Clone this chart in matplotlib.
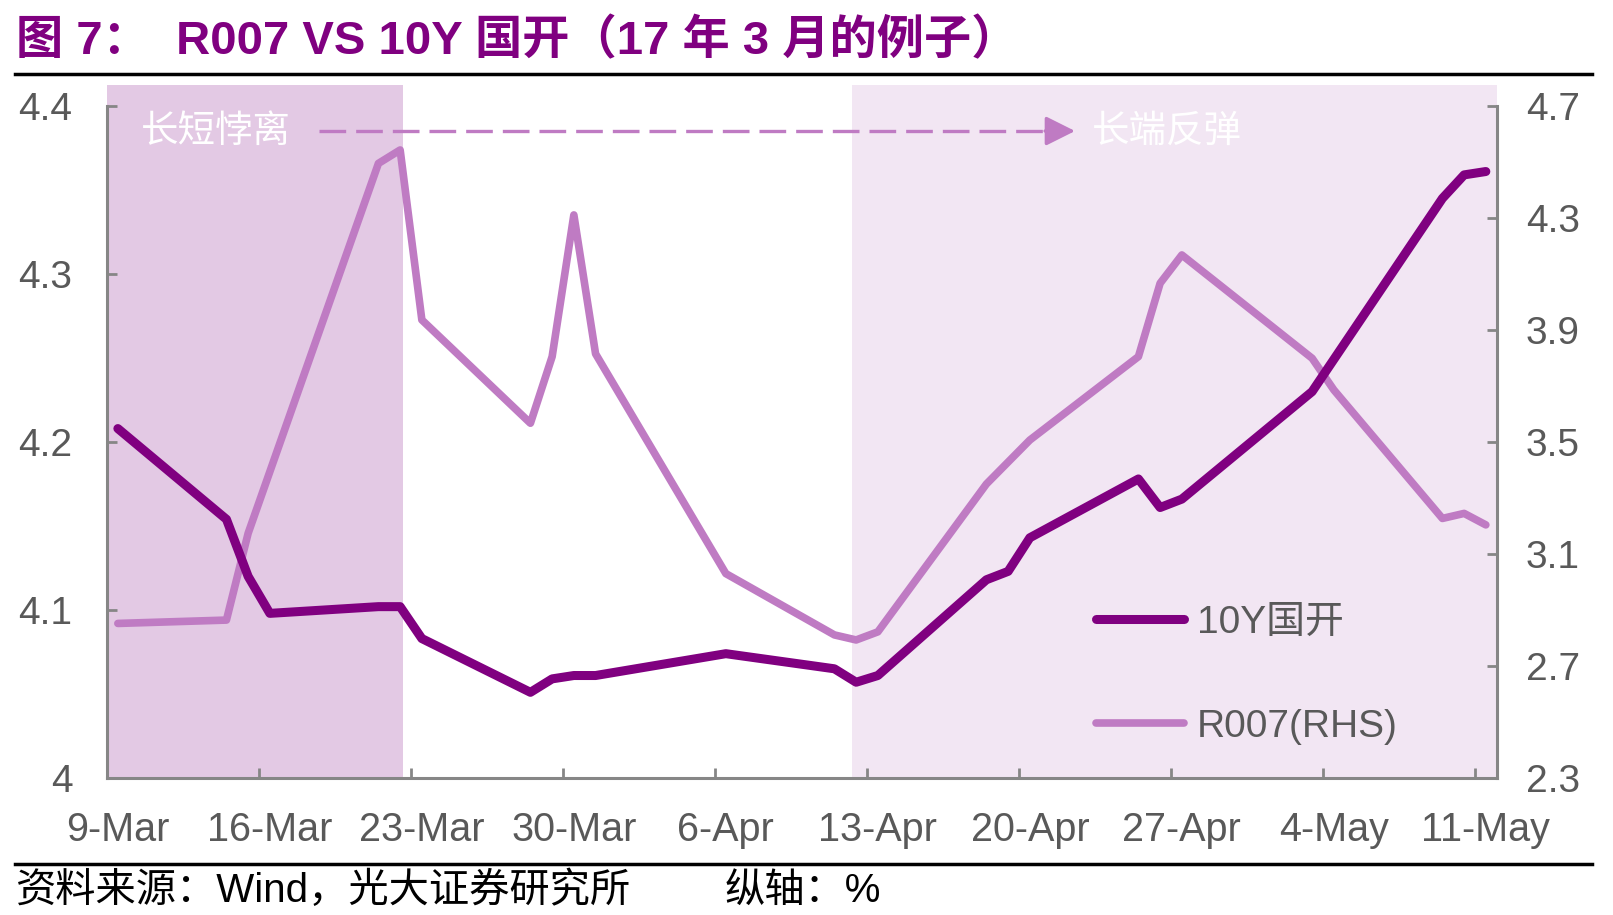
import matplotlib

matplotlib.use("Agg")

import matplotlib.pyplot as plt
import pandas as pd
from matplotlib.lines import Line2D

plt.rcParams["font.family"] = ["Liberation Sans", "Noto Sans CJK SC", "DejaVu Sans"]

# --- data --------------------------------------------------------------------
START = pd.Timestamp("2017-03-09")

CDB_DATES = ["2017-03-09", "2017-03-14", "2017-03-15", "2017-03-16", "2017-03-21",
             "2017-03-22", "2017-03-23", "2017-03-28", "2017-03-29", "2017-03-30",
             "2017-03-31", "2017-04-06", "2017-04-11", "2017-04-12", "2017-04-13",
             "2017-04-18", "2017-04-19", "2017-04-20", "2017-04-25", "2017-04-26",
             "2017-04-27", "2017-05-03", "2017-05-09", "2017-05-10", "2017-05-11"]
CDB_10Y = [4.208, 4.154, 4.120, 4.098, 4.102,
           4.102, 4.083, 4.051, 4.059, 4.061,
           4.061, 4.074, 4.065, 4.057, 4.061,
           4.118, 4.123, 4.143, 4.178, 4.161,
           4.166, 4.230, 4.345, 4.359, 4.361]

R007_DATES = ["2017-03-09", "2017-03-14", "2017-03-15", "2017-03-21", "2017-03-22",
              "2017-03-23", "2017-03-28", "2017-03-29", "2017-03-30", "2017-03-31",
              "2017-04-06", "2017-04-11", "2017-04-12", "2017-04-13", "2017-04-18",
              "2017-04-20", "2017-04-25", "2017-04-26", "2017-04-27", "2017-05-03",
              "2017-05-04", "2017-05-09", "2017-05-10", "2017-05-11"]
R007 = [2.852, 2.864, 3.174, 4.495, 4.543,
        3.936, 3.567, 3.805, 4.311, 3.815,
        3.030, 2.811, 2.793, 2.822, 3.350,
        3.507, 3.805, 4.067, 4.168, 3.799,
        3.686, 3.227, 3.245, 3.204]

TICK_DATES = ["2017-03-09", "2017-03-16", "2017-03-23", "2017-03-30", "2017-04-06",
              "2017-04-13", "2017-04-20", "2017-04-27", "2017-05-04", "2017-05-11"]
TICK_LABELS = ["9-Mar", "16-Mar", "23-Mar", "30-Mar", "6-Apr",
               "13-Apr", "20-Apr", "27-Apr", "4-May", "11-May"]

LEFT_TICKS = [4.0, 4.1, 4.2, 4.3, 4.4]
LEFT_LABELS = ["4", "4.1", "4.2", "4.3", "4.4"]
RIGHT_TICKS = [2.3, 2.7, 3.1, 3.5, 3.9, 4.3, 4.7]

# shaded periods: 长短悖离 / 长端反弹
DIVERGE = ("2017-03-09", "2017-03-22")
REBOUND = ("2017-04-12", "2017-05-11")

# --- style --------------------------------------------------------------------
C_10Y = "#800080"
C_R007 = "#BF7BC3"
C_SHADE1 = "#E3C9E4"
C_SHADE2 = "#F2E6F3"
C_AXIS = "#868686"
C_TEXT = "#595959"
W, H = 1613, 915


def day(d):
    return (pd.to_datetime(d) - START).days


fig = plt.figure(figsize=(W / 100, H / 100), dpi=100)
ax = fig.add_axes([107 / W, 1 - 778 / H, (1496.7 - 107) / W, (778 - 85) / H])
ax2 = ax.twinx()
ax.set_zorder(2)
ax2.set_zorder(1)
ax.patch.set_visible(False)

x0, x1 = day(TICK_DATES[0]) - 0.5, day(TICK_DATES[-1]) + 0.5
ax.set_xlim(x0, x1)
ax.set_ylim(4.0, 4.4125)
ax2.set_ylim(2.3, 4.775)

# shading
ax2.axvspan(x0, day(DIVERGE[1]) + 0.15, color=C_SHADE1, lw=0, zorder=0)
ax2.axvspan(day(REBOUND[0]) - 0.2, x1, color=C_SHADE2, lw=0, zorder=0)

l2, = ax2.plot(day(R007_DATES), R007, color=C_R007, lw=5.5,
               solid_capstyle="round", solid_joinstyle="round", zorder=3)
l1, = ax.plot(day(CDB_DATES), CDB_10Y, color=C_10Y, lw=6.5,
              solid_capstyle="round", solid_joinstyle="round", zorder=3)

# spines
for s in ("top", "right"):
    ax.spines[s].set_visible(False)
for s in ("top", "left", "bottom"):
    ax2.spines[s].set_visible(False)
ax.spines["left"].set_bounds(4.0, 4.4)
ax2.spines["right"].set_bounds(2.3, 4.7)
for sp in (ax.spines["left"], ax.spines["bottom"], ax2.spines["right"]):
    sp.set_color(C_AXIS)
    sp.set_linewidth(2.2)

# ticks
ax.set_yticks(LEFT_TICKS, LEFT_LABELS)
ax2.set_yticks(RIGHT_TICKS, [f"{v:.1f}" for v in RIGHT_TICKS])
ax.tick_params(axis="y", direction="in", length=7, width=2, color=C_AXIS,
               labelsize=28, labelcolor=C_TEXT, pad=25)
ax2.tick_params(axis="y", direction="in", length=7, width=2, color=C_AXIS,
                labelsize=28, labelcolor=C_TEXT, pad=21)

tick_days = day(TICK_DATES)
ax.set_xticks([d - 0.5 for d in tick_days[1:]], [""] * (len(tick_days) - 1))
ax.set_xticks(tick_days, TICK_LABELS, minor=True)
ax.tick_params(axis="x", which="major", direction="in", length=7, width=2, color=C_AXIS)
ax.tick_params(axis="x", which="minor", length=0, labelsize=28.5,
               labelcolor=C_TEXT, pad=24)

# annotation: 长短悖离 - - - -> 长端反弹
ya = 0.9336
ann_font = dict(family=["Noto Sans CJK SC", "DejaVu Sans"], fontsize=27,
                color="white", weight="light", va="center", ha="left")
ax.text(0.0245, ya, "长短悖离", transform=ax.transAxes, **ann_font)
ax.text(0.7088, ya, "长端反弹", transform=ax.transAxes, **ann_font)
dash, = ax.plot([0.1526, 0.679], [ya, ya], transform=ax.transAxes,
                color=C_R007, lw=2.4, zorder=4)
dash.set_dashes((8, 3))
ax.annotate("", xy=(0.6966, ya), xytext=(0.675, ya),
            xycoords="axes fraction", textcoords="axes fraction",
            arrowprops=dict(arrowstyle="-|>,head_length=1.0,head_width=0.5",
                            mutation_scale=18, color=C_R007, lw=2.4,
                            shrinkA=0, shrinkB=0))

# legend
ax.legend([l1, l2], ["10Y国开", "R007(RHS)"], loc="center left",
          bbox_to_anchor=(1095.5 / W, 1 - 675 / H), bbox_transform=fig.transFigure,
          frameon=False, prop=dict(family=["Liberation Sans", "Noto Sans CJK SC"], size=28),
          labelcolor=C_TEXT, handlelength=2.27, handletextpad=0.34,
          labelspacing=1.75, borderpad=0, borderaxespad=0)

# title, rules and source
fig.text(16 / W, 1 - 54.5 / H, "图 7：  R007 VS 10Y 国开（17 年 3 月的例子）",
         fontsize=34, weight="bold", color=C_10Y, ha="left", va="baseline")
fig.add_artist(Line2D([15 / W, 1592 / W], [1 - 74 / H] * 2, color="black", lw=2.5))
fig.add_artist(Line2D([15 / W, 1592 / W], [1 - 864 / H] * 2, color="black", lw=2.5))
fig.text(16 / W, 1 - 902 / H, "资料来源：Wind，光大证券研究所", fontsize=29,
         color="black", ha="left", va="baseline")
fig.text(725 / W, 1 - 902 / H, "纵轴：%", fontsize=29,
         color="black", ha="left", va="baseline")

fig.savefig("out.png", dpi=100)
